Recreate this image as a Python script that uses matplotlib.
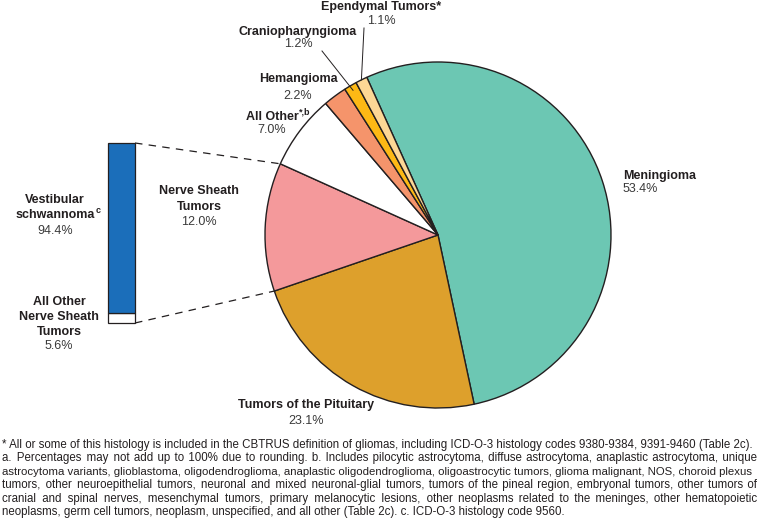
import numpy as np
import matplotlib
matplotlib.use('Agg')
import matplotlib.pyplot as plt

plt.rcParams['font.family'] = ['Liberation Sans', 'DejaVu Sans']

# pie data (clockwise from the Meningioma slice)
categories = ['Meningioma', 'Tumors of the Pituitary', 'Nerve Sheath\nTumors',
              'All Other', 'Hemangioma', 'Craniopharyngioma', 'Ependymal Tumors*']
superscripts = ['', '', '', '*,b', '', '', '']
values = [53.4, 23.1, 12.0, 7.0, 2.2, 1.2, 1.1]
colors = ['#6CC7B3', '#DDA02C', '#F4999B', '#FFFFFF', '#F5946B', '#FDB915', '#FDD795']

# breakdown of nerve sheath tumors (bottom to top)
sub_categories = ['All Other\nNerve Sheath\nTumors', 'Vestibular\nschwannoma']
sub_superscripts = ['', 'c']
sub_values = [5.6, 94.4]
sub_colors = ['#FFFFFF', '#1B6EBA']

footnote = [
    "* All or some of this histology is included in the CBTRUS definition of gliomas, including ICD-O-3 histology codes 9380-9384, 9391-9460 (Table 2c).",
    "a. Percentages may not add up to 100% due to rounding. b. Includes pilocytic astrocytoma, diffuse astrocytoma, anaplastic astrocytoma, unique",
    "astrocytoma variants, glioblastoma, oligodendroglioma, anaplastic oligodendroglioma, oligoastrocytic tumors, glioma malignant, NOS, choroid plexus",
    "tumors, other neuroepithelial tumors, neuronal and mixed neuronal-glial tumors, tumors of the pineal region, embryonal tumors, other tumors of",
    "cranial and spinal nerves, mesenchymal tumors, primary melanocytic lesions, other neoplasms related to the meninges, other hematopoietic",
    "neoplasms, germ cell tumors, neoplasm, unspecified, and all other (Table 2c). c. ICD-O-3 histology code 9560.",
]

W, H = 763, 523
EDGE = '#231F20'
LBL = '#231F20'
PCT = '#3A3A3A'

fig = plt.figure(figsize=(W / 100, H / 100), dpi=100)
ax = fig.add_axes([0, 0, 1, 1])
renderer = fig.canvas.get_renderer()

# work in pixel coordinates, y measured from the top
def Y(y):
    return H - y

cx, cy, R = 438, 235, 173
start = 114.3
ax.pie(values, colors=colors, startangle=start, counterclock=False,
       center=(cx, Y(cy)), radius=R,
       wedgeprops=dict(edgecolor=EDGE, linewidth=1.0))
ax.set_xlim(0, W)
ax.set_ylim(0, H)
ax.set_aspect('equal')
ax.axis('off')

# angles of slice boundaries (matplotlib convention, degrees)
bounds = start - 360 * np.cumsum([0] + values) / sum(values)

def edge_pt(ang, r=R):
    a = np.deg2rad(ang)
    return cx + r * np.cos(a), Y(cy) + r * np.sin(a)

# stacked bar for nerve sheath tumors
bx, bw, btop, bbot = 108, 27, 143, 323
scale = (bbot - btop) / sum(sub_values)
bottom = Y(bbot)
for v, c in zip(sub_values, sub_colors):
    ax.bar(bx + bw / 2, v * scale, width=bw, bottom=bottom, color=c,
           edgecolor=EDGE, linewidth=0.9)
    bottom += v * scale

# dashed connectors from the bar to the nerve sheath slice
p_top = edge_pt(bounds[3])
p_bot = edge_pt(bounds[2])
ax.plot([bx + bw, p_top[0]], [Y(btop), p_top[1]], ls=(0, (6, 5)), color=EDGE, lw=0.9)
ax.plot([bx + bw, p_bot[0]], [Y(bbot), p_bot[1]], ls=(0, (6, 5)), color=EDGE, lw=0.9)

def label(x, y, name, pct, pct_y, sup='', ha='center', step=15):
    lines = name.split('\n')
    t = None
    for k, ln in enumerate(lines):
        t = ax.text(x, Y(y + k * step), ln, ha=ha, va='center', fontsize=9,
                    fontweight='bold', color=LBL)
    if sup:
        bb = t.get_window_extent(renderer)
        ax.text(bb.x1 + 0.8, Y(y + (len(lines) - 1) * step) + 2, sup, ha='left',
                va='baseline', fontsize=6.5, fontweight='bold', color=LBL)
    ax.text(x, Y(pct_y), f'{pct:.1f}%', ha=ha, va='center', fontsize=9, color=PCT)

label(623, 176, categories[0], values[0], 189, ha='left')
label(306, 405, categories[1], values[1], 421)
label(199, 191, categories[2], values[2], 222, step=16)
label(272, 117, categories[3], values[3], 130, sup=superscripts[3])
label(298, 79, categories[4], values[4], 96)
label(298, 32, categories[5], values[5], 44)
label(381, 7, categories[6], values[6], 21)
label(55, 200, sub_categories[1], sub_values[1], 231, sup=sub_superscripts[1])
label(59, 302, sub_categories[0], sub_values[0], 346)

# leader lines for the thin slices
mid_c = (bounds[5] + bounds[6]) / 2
mid_e = (bounds[6] + bounds[7]) / 2
pc = edge_pt(mid_c, R * 0.97)
pe = edge_pt(mid_e, R * 1.0)
ax.plot([322, pc[0]], [Y(51), pc[1]], color=EDGE, lw=0.7)
ax.plot([364, pe[0]], [Y(28), pe[1]], color=EDGE, lw=0.7)

# footnote: one text per line, padded with hair spaces to justify
def width(s, fs):
    t = ax.text(0, 0, s, fontsize=fs)
    w = t.get_window_extent(renderer).width
    t.remove()
    return w

left, right = 2, 757
fs = 8 * (right - left) / width(footnote[0], 8)
HAIR = '\u200a'
hair_w = width('a' + HAIR * 10 + 'a', fs) - width('aa', fs)
hair_w /= 10
for i, line in enumerate(footnote):
    y = Y(445 + i * 13.4)
    s, lfs = line, fs
    if 0 < i < len(footnote) - 1:
        words = line.split(' ')
        deficit = (right - left) - width(line, fs)
        if deficit < 0:
            lfs = fs * (right - left) / width(line, fs) * 0.99
        elif hair_w > 0:
            n = int(round(deficit / hair_w))
            gaps = len(words) - 1
            s = words[0]
            for k, w in enumerate(words[1:]):
                extra = n // gaps + (1 if k < n % gaps else 0)
                s += ' ' + HAIR * extra + w
    ax.text(left, y, s, ha='left', va='center', fontsize=lfs, color='#231F20')

fig.savefig('out.png', dpi=100)
